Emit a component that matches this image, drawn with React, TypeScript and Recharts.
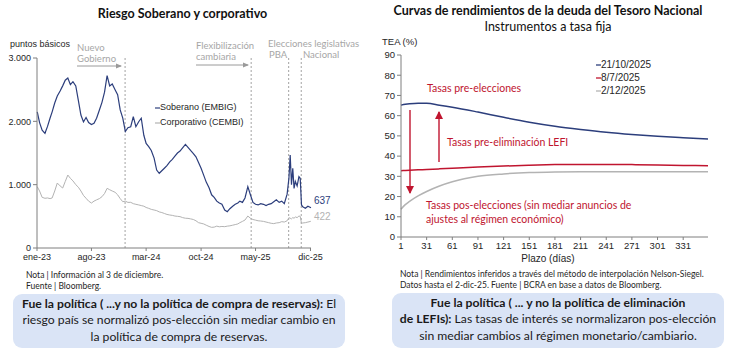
import { LineChart, Line, XAxis, YAxis, ReferenceLine, LabelList } from "recharts";

// --- Riesgo soberano y corporativo (puntos básicos) ---
const fechas = [
  "2023-01-02", "2023-01-11", "2023-01-21", "2023-02-01", "2023-02-11", "2023-02-21",
  "2023-03-01", "2023-03-11", "2023-03-21", "2023-04-01", "2023-04-11", "2023-04-21",
  "2023-05-01", "2023-05-11", "2023-05-21", "2023-06-01", "2023-06-11", "2023-06-21",
  "2023-07-01", "2023-07-11", "2023-07-21", "2023-08-01", "2023-08-11", "2023-08-21",
  "2023-09-01", "2023-09-11", "2023-09-21", "2023-10-01", "2023-10-11", "2023-10-21",
  "2023-11-01", "2023-11-11", "2023-11-21", "2023-12-01", "2023-12-11", "2023-12-21",
  "2024-01-01", "2024-01-11", "2024-01-21", "2024-02-01", "2024-02-11", "2024-02-21",
  "2024-03-01", "2024-03-11", "2024-03-21", "2024-04-01", "2024-04-11", "2024-04-21",
  "2024-05-01", "2024-05-11", "2024-05-21", "2024-06-01", "2024-06-11", "2024-06-21",
  "2024-07-01", "2024-07-11", "2024-07-21", "2024-08-01", "2024-08-11", "2024-08-21",
  "2024-09-01", "2024-09-11", "2024-09-21", "2024-10-01", "2024-10-11", "2024-10-21",
  "2024-11-01", "2024-11-11", "2024-11-21", "2024-12-01", "2024-12-11", "2024-12-21",
  "2025-01-01", "2025-01-11", "2025-01-21", "2025-02-01", "2025-02-11", "2025-02-21",
  "2025-03-01", "2025-03-11", "2025-03-21", "2025-04-01", "2025-04-11", "2025-04-21",
  "2025-05-01", "2025-05-11", "2025-05-21", "2025-06-01", "2025-06-11", "2025-06-21",
  "2025-07-01", "2025-07-11", "2025-07-21", "2025-08-01", "2025-08-11", "2025-08-21",
  "2025-09-01", "2025-09-08", "2025-09-13", "2025-09-18", "2025-09-23", "2025-09-28",
  "2025-10-03", "2025-10-10", "2025-10-17", "2025-10-22", "2025-10-27",
  "2025-11-01", "2025-11-11", "2025-11-21", "2025-12-01", "2025-12-03",
];

const soberano = [
  2150, 1980, 1860, 1811, 1920, 2053, 2150, 2290, 2400, 2480, 2560, 2650,
  2684, 2580, 2626, 2560, 2330, 2100, 1990, 2060, 1980, 1950, 1968, 2050,
  2180, 2300, 2460, 2721, 2560, 2590, 2500, 2420, 2180, 2050, 1840, 1900,
  1915, 2073, 1915, 1994, 2050, 1780, 1650, 1600, 1540, 1420, 1230, 1180,
  1220, 1260, 1300, 1360, 1400, 1450, 1500, 1530, 1580, 1637, 1590, 1540,
  1490, 1440, 1350, 1260, 1150, 1040, 950, 840, 800, 740, 710, 690,
  600, 573, 620, 660, 690, 710, 740, 720, 790, 968, 840, 720,
  690, 680, 700, 690, 670, 690, 700, 730, 760, 720, 740, 700,
  850, 1100, 1468, 1000, 1258, 940,
  1050, 980, 1126, 1100, 680,
  650, 627, 660, 640, 637,
];

const corporativo = [
  968, 900, 800, 785, 790, 780, 790, 900, 1026, 980, 947, 1050,
  1152, 1100, 1060, 1000, 960, 900, 830, 785, 740, 710, 740, 760,
  780, 810, 860, 942, 920, 900, 880, 840, 780, 731, 740, 720,
  721, 700, 690, 680, 670, 660, 640, 626, 610, 600, 590, 570,
  560, 545, 530, 521, 515, 505, 500, 495, 480, 470, 468, 460,
  450, 430, 400, 390, 380, 360, 340, 326, 330, 345, 335, 340,
  337, 345, 350, 360, 370, 380, 400, 420, 442, 505, 470, 450,
  440, 430, 426, 420, 410, 400, 390, 385, 395, 400, 416, 410,
  430, 479, 470, 460, 480, 470,
  490, 480, 505, 500, 390,
  395, 400, 410, 420, 422,
];

const eventos = ["2023-12-10", "2025-04-14", "2025-09-07", "2025-10-26"];
const ticksFecha = ["2023-01-01", "2023-08-01", "2024-03-01", "2024-10-01", "2025-05-01", "2025-12-01"];
const ticksPb = [0, 1000, 2000, 3000];
const meses = ["ene", "feb", "mar", "abr", "may", "jun", "jul", "ago", "sep", "oct", "nov", "dic"];

// --- Curvas de rendimientos (TEA %) ---
const plazos = [1, 6, 11, 21, 31, 46, 61, 91, 121, 151, 181, 211, 241, 271, 301, 331, 360];
const curva2110 = [65.2, 65.6, 65.9, 66.2, 66.1, 65.2, 64.2, 61.8, 59.2, 56.8, 54.8, 53.2, 51.8, 50.7, 49.8, 49.1, 48.5];
const curva0807 = [32.8, 32.9, 33.0, 33.2, 33.4, 33.7, 34.0, 34.6, 35.1, 35.5, 35.8, 35.9, 35.9, 35.8, 35.6, 35.4, 35.2];
const curva0212 = [13.7, 16.0, 17.6, 20.3, 22.5, 25.2, 27.3, 30.0, 31.2, 31.9, 32.2, 32.3, 32.3, 32.3, 32.3, 32.3, 32.3];
const ticksPlazo = [1, 31, 61, 91, 121, 151, 181, 211, 241, 271, 301, 331];
const ticksTea = [0, 10, 20, 30, 40, 50, 60, 70, 80, 90];

const AZUL = "#2c3e7c";
const GRIS = "#b3b3b3";
const ROJO = "#c0152f";
const EJE = "#7f7f7f";
const NARROW = "'Liberation Sans Narrow', 'Liberation Sans', Arial, sans-serif";
const SANS = "Lato, 'Open Sans', sans-serif";

const ultimo = fechas.length - 1;
const riesgo = fechas.map((f, i) => ({
  t: Date.parse(f),
  soberano: soberano[i],
  corporativo: corporativo[i],
  finS: i === ultimo ? soberano[i] : null,
  finC: i === ultimo ? corporativo[i] : null,
}));

const curvas = plazos.map((p, i) => ({
  plazo: p,
  c2110: curva2110[i],
  c0807: curva0807[i],
  c0212: curva0212[i],
}));

const fmtMiles = (v: number) => String(v).replace(/\B(?=(\d{3})+(?!\d))/g, ".");
const fmtMes = (v: number) => {
  const d = new Date(v);
  return `${meses[d.getUTCMonth()]}-${String(d.getUTCFullYear()).slice(2)}`;
};

const tick = { fontFamily: NARROW, fontSize: 9.5, fill: "#262626" };
const tickChico = { ...tick, fontSize: 9 };

const finLabel = (color: string, dy: number) => (props: any) => {
  const { x, y, value } = props;
  if (value == null) return null;
  return (
    <text x={x + 3} y={y + dy} fill={color} fontFamily={NARROW} fontSize={10} dominantBaseline="middle">
      {value}
    </text>
  );
};

const box: React.CSSProperties = {
  position: "absolute",
  background: "#dae4f6",
  borderRadius: 9,
  fontFamily: SANS,
  fontSize: 12.2,
  lineHeight: "16.5px",
  color: "#1a1a1a",
  textAlign: "center",
  boxSizing: "border-box",
  paddingTop: 1.5,
  whiteSpace: "nowrap",
};

export default function App() {
  return (
    <div style={{ position: "absolute", left: 0, top: 0, width: 730, height: 355, background: "#fff", overflow: "hidden" }}>
      {/* títulos */}
      <div style={{ position: "absolute", left: 0, top: 6, width: 365, textAlign: "center", fontFamily: SANS, fontWeight: 700, fontSize: 12.5, color: "#111" }}>
        Riesgo Soberano y corporativo
      </div>
      <div style={{ position: "absolute", left: 365, top: 3, width: 366, textAlign: "center", fontFamily: SANS, fontSize: 12.5, color: "#111", lineHeight: "16px" }}>
        <div style={{ fontWeight: 700 }}>Curvas de rendimientos de la deuda del Tesoro Nacional</div>
        <div>Instrumentos a tasa fija</div>
      </div>

      {/* gráfico izquierdo */}
      <div style={{ position: "absolute", left: 0, top: 0 }}>
        <LineChart width={365} height={280} data={riesgo} margin={{ top: 58, right: 54, bottom: 0, left: 0 }}>
          <XAxis
            dataKey="t"
            type="number"
            scale="time"
            domain={[Date.parse("2023-01-01"), Date.parse("2025-12-03")]}
            ticks={ticksFecha.map((f) => Date.parse(f))}
            tickFormatter={fmtMes}
            height={32}
            tickSize={3}
            tickMargin={3}
            tick={tickChico}
            stroke={EJE}
          />
          <YAxis
            domain={[0, 3000]}
            ticks={ticksPb}
            tickFormatter={fmtMiles}
            width={37}
            tickSize={4}
            tick={tickChico}
            stroke={EJE}
          />
          {eventos.map((f) => (
            <ReferenceLine key={f} x={Date.parse(f)} stroke="#8c8c8c" strokeDasharray="2 2" strokeWidth={0.8} />
          ))}
          <Line dataKey="corporativo" stroke={GRIS} strokeWidth={1} dot={false} isAnimationActive={false}>
            <LabelList dataKey="finC" content={finLabel(GRIS, -4)} />
          </Line>
          <Line dataKey="soberano" stroke={AZUL} strokeWidth={1.2} dot={false} isAnimationActive={false}>
            <LabelList dataKey="finS" content={finLabel(AZUL, -6)} />
          </Line>
        </LineChart>
      </div>

      {/* gráfico derecho */}
      <div style={{ position: "absolute", left: 365, top: 0 }}>
        <LineChart width={365} height={265} data={curvas} margin={{ top: 55, right: 22, bottom: 0, left: 0 }}>
          <XAxis
            dataKey="plazo"
            type="number"
            domain={[1, 360]}
            ticks={ticksPlazo}
            height={28}
            tickSize={3}
            tick={tick}
            stroke={EJE}
          />
          <YAxis domain={[0, 90]} ticks={ticksTea} width={36} tickSize={4} tick={tick} stroke={EJE} />
          <Line type="monotone" dataKey="c0212" stroke={GRIS} strokeWidth={1.5} dot={false} isAnimationActive={false} />
          <Line type="monotone" dataKey="c0807" stroke={ROJO} strokeWidth={1.5} dot={false} isAnimationActive={false} />
          <Line type="monotone" dataKey="c2110" stroke={AZUL} strokeWidth={1.5} dot={false} isAnimationActive={false} />
        </LineChart>
      </div>

      {/* anotaciones, leyendas y flechas */}
      <svg width={730} height={355} style={{ position: "absolute", left: 0, top: 0, pointerEvents: "none" }}>
        <defs>
          <marker id="fg" markerWidth="6" markerHeight="6" refX="5" refY="3" orient="auto" markerUnits="userSpaceOnUse">
            <path d="M0,0.5 L6,3 L0,5.5 Z" fill="#9a9a9a" />
          </marker>
          <marker id="fr" markerWidth="8" markerHeight="8" refX="7" refY="4" orient="auto" markerUnits="userSpaceOnUse">
            <path d="M0,0 L8,4 L0,8 Z" fill={ROJO} />
          </marker>
        </defs>

        <text x={10} y={47} fontFamily={NARROW} fontSize={9} fill="#262626">puntos básicos</text>

        <g fontFamily={SANS} fontSize={9.5} fill="#a6a6a6">
          <text x={77} y={51}>Nuevo</text>
          <text x={77} y={62}>Gobierno</text>
          <text x={196} y={49}>Flexibilización</text>
          <text x={196} y={60}>cambiaria</text>
          <text x={268} y={47}>Elecciones legislativas</text>
          <text x={269} y={58}>PBA</text>
          <text x={303} y={58}>Nacional</text>
        </g>
        <line x1={77} y1={66} x2={121} y2={66} stroke="#9a9a9a" strokeWidth={1} markerEnd="url(#fg)" />
        <line x1={196} y1={65} x2={248} y2={65} stroke="#9a9a9a" strokeWidth={1} markerEnd="url(#fg)" />

        <g fontFamily={NARROW} fontSize={9} fill="#262626">
          <line x1={155} y1={108} x2={160} y2={108} stroke={AZUL} strokeWidth={1.2} />
          <text x={160} y={108} dominantBaseline="middle">Soberano (EMBIG)</text>
          <line x1={155} y1={123} x2={160} y2={123} stroke={GRIS} strokeWidth={1.2} />
          <text x={160} y={123} dominantBaseline="middle">Corporativo (CEMBI)</text>
        </g>

        <g fontFamily={SANS} fontSize={8.5} fill="#262626">
          <text x={26} y={278}>Nota | Información al 3 de diciembre.</text>
          <text x={26} y={289}>Fuente | Bloomberg.</text>
          <text x={400} y={277}>Nota | Rendimientos inferidos a través del método de interpolación Nelson-Siegel.</text>
          <text x={400} y={288}>Datos hasta el 2-dic-25. Fuente | BCRA en base a datos de Bloomberg.</text>
        </g>

        <text x={382} y={45} fontFamily={NARROW} fontSize={9.5} fill="#262626">TEA (%)</text>
        <text x={548} y={262} textAnchor="middle" fontFamily={NARROW} fontSize={10} fill="#262626">Plazo (días)</text>

        <g fontFamily={NARROW} fontSize={10} fill="#262626">
          <line x1={596} y1={65} x2={601} y2={65} stroke={AZUL} strokeWidth={1.3} />
          <text x={601} y={65} dominantBaseline="middle">21/10/2025</text>
          <line x1={596} y1={78} x2={601} y2={78} stroke={ROJO} strokeWidth={1.3} />
          <text x={601} y={78} dominantBaseline="middle">8/7/2025</text>
          <line x1={596} y1={91} x2={601} y2={91} stroke={GRIS} strokeWidth={1.3} />
          <text x={601} y={91} dominantBaseline="middle">2/12/2025</text>
        </g>

        <g fontFamily={SANS} fontSize={10.5} fill={ROJO}>
          <text x={427} y={92}>Tasas pre-elecciones</text>
          <text x={447} y={146}>Tasas pre-eliminación LEFI</text>
          <text x={426} y={209}>Tasas pos-elecciones (sin mediar anuncios de</text>
          <text x={426} y={223}>ajustes al régimen económico)</text>
        </g>
        <line x1={410} y1={110} x2={410} y2={193} stroke={ROJO} strokeWidth={1.4} markerEnd="url(#fr)" />
        <line x1={439} y1={162} x2={439} y2={112} stroke={ROJO} strokeWidth={1.4} markerEnd="url(#fr)" />
      </svg>

      {/* recuadros */}
      <div style={{ ...box, left: 13, top: 294, width: 332, height: 54 }}>
        <div><b>Fue la política ( ...y no la política de compra de reservas):</b> El</div>
        <div>riesgo país se normalizó pos-elección sin mediar cambio en</div>
        <div>la política de compra de reservas.</div>
      </div>
      <div style={{ ...box, left: 392, top: 293, width: 332, height: 55 }}>
        <div><b>Fue la política ( ... y no la política de eliminación</b></div>
        <div><b>de LEFIs):</b> Las tasas de interés se normalizaron pos-elección</div>
        <div>sin mediar cambios al régimen monetario/cambiario.</div>
      </div>
    </div>
  );
}
